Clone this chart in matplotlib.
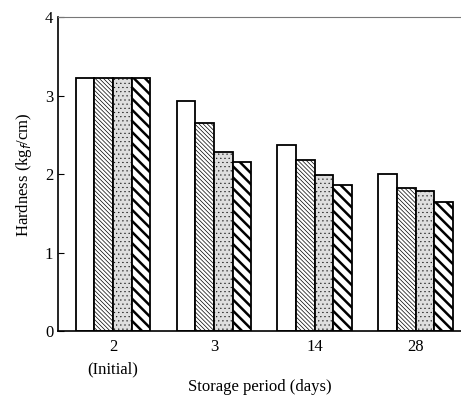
import matplotlib.pyplot as plt
import numpy as np

plt.rcParams['font.family'] = ['Liberation Serif', 'DejaVu Serif']

periods = ["2\n(Initial)", "3", "14", "28"]
plain = [3.23, 2.93, 2.37, 2.00]
fine_hatch = [3.23, 2.65, 2.18, 1.82]
dotted = [3.23, 2.28, 1.99, 1.79]
bold_hatch = [3.23, 2.16, 1.86, 1.64]

fig = plt.figure(figsize=(4.61, 3.98), dpi=100)
ax = fig.add_axes([0.126, 0.168, 0.874, 0.789])

x = np.arange(len(periods))
w = 0.185
styles = [
    (plain, 'white', None, 1.0),
    (fine_hatch, 'white', '\\' * 8, 0.5),
    (dotted, '#dedede', '....', 0.3),
    (bold_hatch, 'white', '\\' * 3, 1.8),
]
for i, (vals, fc, hatch, hlw) in enumerate(styles):
    bars = ax.bar(x + (i - 1.5) * w, vals, w, color=fc, edgecolor='black',
                  linewidth=1.3, hatch=hatch)
    for b in bars:
        if hasattr(b, 'set_hatch_linewidth'):
            b.set_hatch_linewidth(hlw)

ax.set_xlim(-0.545, 3.45)
ax.set_ylim(0, 4)
ax.set_yticks([0, 1, 2, 3, 4])
ax.set_xticks(x)
ax.set_xticklabels(periods, fontsize=12, linespacing=1.5)
ax.tick_params(axis='x', length=0, pad=6)
ax.tick_params(axis='y', direction='in', length=4, labelsize=12)
ax.spines['right'].set_visible(False)
ax.spines['top'].set_color('#777777')
ax.spines['top'].set_linewidth(0.8)
ax.spines['left'].set_linewidth(1.2)
ax.spines['bottom'].set_linewidth(1.2)
ax.set_ylabel("Hardness (kg$_f$/cm)", fontsize=12, labelpad=8)
ax.set_xlabel("Storage period (days)", fontsize=12, labelpad=1)

fig.savefig("out.png", dpi=100)
